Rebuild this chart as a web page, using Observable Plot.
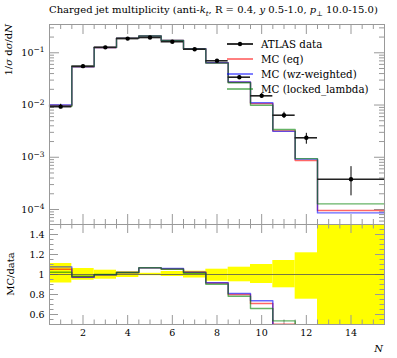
<!DOCTYPE html>
<html><head><meta charset="utf-8">
<script src="https://cdn.jsdelivr.net/npm/d3@7"></script>
<script src="https://cdn.jsdelivr.net/npm/@observablehq/plot@0.6"></script>
<style>
body{margin:0;background:#fff;}
#wrap{position:relative;width:397px;height:358px;overflow:hidden;font-family:"DejaVu Serif",serif;}
#wrap svg{position:absolute;left:0;overflow:visible;}
</style></head><body><div id="wrap"></div>
<script>
// ---- data ----
const binEdges = [0.5,1.5,2.5,3.5,4.5,5.5,6.5,7.5,8.5,9.5,10.5,11.5,12.5,15.5];
const binCenters = [1,2,3,4,5,6,7,8,9,10,11,12,14];
const dataValues = [0.0093,0.0555,0.127,0.187,0.196,0.163,0.117,0.0703,0.0341,0.0150,0.00638,0.00236,0.00038];
const dataRelHi = [1.11,1.06,1.043,1.026,1.012,1.03,1.033,1.053,1.073,1.10,1.14,1.217,1.74];
const dataRelLo = [0.915,0.943,0.953,0.97,0.988,0.98,0.965,0.933,0.927,0.91,0.867,0.753,0.48];
const mcEq     = [0.0098,0.0540,0.1265,0.191,0.209,0.172,0.1197,0.0643,0.0273,0.01065,0.0032,0.000865,0.0000955];
const mcWz     = [0.0100,0.0538,0.1265,0.191,0.209,0.173,0.1197,0.0645,0.0276,0.01105,0.00313,0.00092,0.0000861];
const mcLocked = [0.0095,0.0545,0.1268,0.191,0.210,0.1715,0.1185,0.0635,0.0267,0.0099,0.0034,0.00094,0.000128];
const ratioEq     = [1.053,0.975,0.997,1.02,1.066,1.055,1.023,0.915,0.80,0.71,0.503,0.37,0.25];
const ratioWz     = [1.076,0.972,0.997,1.02,1.066,1.06,1.023,0.918,0.81,0.737,0.49,0.39,0.23];
const ratioLocked = [1.023,0.982,1.0,1.02,1.068,1.053,1.013,0.903,0.783,0.66,0.536,0.40,0.34];
const seriesNames = ["MC (eq)","MC (wz-weighted)","MC (locked_lambda)"];
const seriesColors = ["#ff0000","#0000ff","#008000"];
const dataName = "ATLAS data";
const xTickLabels = [2,4,6,8,10,12,14];
const yMainLabels = [1e-4,1e-3,1e-2,1e-1];
const yRatioLabels = [0.6,0.8,1.0,1.2,1.4];

// ---- helpers ----
function steps(vals){const o=[];vals.forEach((v,i)=>{o.push({x:binEdges[i],y:v});o.push({x:binEdges[i+1],y:v});});return o;}
const dataRows = dataValues.map((v,i)=>({c:binCenters[i],v,lo:binEdges[i],hi:binEdges[i+1],eHi:v*dataRelHi[i],eLo:v*dataRelLo[i],rHi:dataRelHi[i],rLo:dataRelLo[i]}));

const W=397, ML=49, MR=13, FW=W-ML-MR;
const MAJ=10, MIN=5, TC="#999";
const xMinor=[]; for(let t=1;t<=15;t+=0.5){ if(!xTickLabels.includes(t)) xMinor.push(t); }
const yMinorMain=[]; for(const d of [1e-5,1e-4,1e-3,1e-2,1e-1]) for(let k=2;k<=9;k++){const v=k*d; if(v>5.16e-5&&v<0.348) yMinorMain.push(v);}
const yMinorRatio=[]; for(let t=0.55;t<1.5;t+=0.05){const r=Math.round(t*100)/100; if(!yRatioLabels.some(l=>Math.abs(l-r)<1e-6)) yMinorRatio.push(r);}

function xTicks(H, maj, min){
  return [
    Plot.tickX(xTickLabels,{insetBottom:H-maj,stroke:TC}),
    Plot.tickX(xMinor,{insetBottom:H-min,stroke:TC}),
    Plot.tickX(xTickLabels,{insetTop:H-maj,stroke:TC}),
    Plot.tickX(xMinor,{insetTop:H-min,stroke:TC})
  ];
}
function yTicks(maj, min, majL, minL){
  return [
    Plot.tickY(maj,{insetRight:FW-majL,stroke:TC}),
    Plot.tickY(min,{insetRight:FW-minL,stroke:TC}),
    Plot.tickY(maj,{insetLeft:FW-majL,stroke:TC}),
    Plot.tickY(min,{insetLeft:FW-minL,stroke:TC})
  ];
}
const font = {fontFamily:"DejaVu Serif", fontSize:"9.5px", background:"transparent", overflow:"visible"};

const mcMain=[mcEq,mcWz,mcLocked], mcRatio=[ratioEq,ratioWz,ratioLocked];

const main = Plot.plot({
  width:W, height:224, marginLeft:ML, marginRight:MR, marginTop:24, marginBottom:0,
  x:{domain:[0.5,15.5], axis:null},
  y:{type:"log", domain:[5.16e-5,0.348], axis:null},
  style:font,
  marks:[
    ...xTicks(200, MAJ, MIN),
    ...yTicks(yMainLabels, yMinorMain, MAJ, MIN),
    ...mcMain.map((s,i)=>Plot.line(steps(s),{x:"x",y:"y",stroke:seriesColors[i],strokeWidth:1.4,strokeOpacity:0.6})),
    Plot.ruleY(dataRows,{y:"v",x1:"lo",x2:"hi",stroke:"#222",strokeWidth:1.6}),
    Plot.ruleX(dataRows,{x:"c",y1:"eLo",y2:"eHi",stroke:"#000",strokeWidth:1}),
    Plot.dot(dataRows,{x:"c",y:"v",r:2.2,fill:"#000"}),
    Plot.text(yMainLabels,{y:d=>d,frameAnchor:"left",dx:-5,textAnchor:"end",text:d=>"10^"+Math.round(Math.log10(d)),fill:"#000"}),
    Plot.frame({stroke:TC})
  ]
});
main.style.top="0px";

const ratio = Plot.plot({
  width:W, height:134, marginLeft:ML, marginRight:MR, marginTop:0, marginBottom:34,
  x:{domain:[0.5,15.5], axis:null},
  y:{domain:[0.5,1.5], axis:null},
  style:font,
  marks:[
    Plot.rect(dataRows,{x1:"lo",x2:"hi",y1:"rLo",y2:"rHi",fill:"#ffff00",clip:true}),
    ...xTicks(100, MAJ*0.9, MIN*0.9),
    ...yTicks(yRatioLabels, yMinorRatio, MAJ*0.9, MIN*0.9),
    Plot.ruleY([1],{stroke:"#555",strokeWidth:0.8}),
    ...mcRatio.map((s,i)=>Plot.line(steps(s),{x:"x",y:"y",stroke:seriesColors[i],strokeWidth:1.4,strokeOpacity:0.6,clip:true})),
    Plot.text(yRatioLabels,{y:d=>d,frameAnchor:"left",dx:-5,textAnchor:"end",text:d=>d===1?"1":d.toFixed(1),fill:"#000"}),
    Plot.text(xTickLabels,{x:d=>d,frameAnchor:"bottom",dy:11,text:d=>String(d),fill:"#000"}),
    Plot.frame({stroke:TC})
  ]
});
ratio.style.top="224px";

const wrap=document.getElementById("wrap");
wrap.appendChild(main); wrap.appendChild(ratio);

// superscripts for log labels
main.querySelectorAll("text").forEach(t=>{
  const m=/^10\^(-?\d+)$/.exec(t.textContent);
  if(m){ t.textContent="10"; const s=document.createElementNS("http://www.w3.org/2000/svg","tspan"); s.setAttribute("dy","-0.45em"); s.setAttribute("font-size","7.5px"); s.textContent=m[1].replace("-","\u2212"); t.appendChild(s);}
});

// title
const ms=d3.select(main);
const title=ms.append("text").attr("x",ML).attr("y",13).attr("text-anchor","start").attr("font-size","10px").attr("fill","#000");
const parts=[["Charged jet multiplicity (anti-",0,0],["k",1,0],["t",1,1],[", R = 0.4, ",0,0],["y",1,0],[" 0.5-1.0, ",0,0],["p",1,0],["\u22A5",0,1],[" 10.0-15.0)",0,0]];
let sub=false;
parts.forEach(([s,it,sb])=>{
  const ts=title.append("tspan").text(s);
  if(it) ts.attr("font-style","italic");
  if(sb&&!sub){ts.attr("dy","2.5").attr("font-size","7px");sub=true;}
  else if(!sb&&sub){ts.attr("dy","-2.5");sub=false;}
});
// y label
const yl=ms.append("text").attr("transform","translate(12,24) rotate(-90)").attr("text-anchor","end").attr("font-size","10px").attr("fill","#000");
yl.append("tspan").text("1/");
yl.append("tspan").attr("font-style","italic").text("σ");
yl.append("tspan").text(" d");
yl.append("tspan").attr("font-style","italic").text("σ");
yl.append("tspan").text("/d");
yl.append("tspan").attr("font-style","italic").text("N");

// legend
const lg=ms.append("g").attr("font-size","10.3px").attr("text-anchor","start");
const rows=[{name:dataName,color:"#000",dot:true},...seriesNames.map((n,i)=>({name:n,color:seriesColors[i]}))];
rows.forEach((r,i)=>{
  const y=44+15*i;
  lg.append("line").attr("x1",227).attr("x2",253).attr("y1",y).attr("y2",y).attr("stroke",r.color).attr("stroke-width",r.dot?1.6:1);
  if(r.dot) lg.append("circle").attr("cx",240).attr("cy",y).attr("r",2.2).attr("fill","#000");
  lg.append("text").attr("x",261).attr("y",y+3.5).attr("text-anchor","start").text(r.name);
});

// ratio labels
const rs=d3.select(ratio);
rs.append("text").attr("transform","translate(14,50) rotate(-90)").attr("text-anchor","middle").attr("font-size","10px").text("MC/data");
rs.append("text").attr("x",383).attr("y",128).attr("text-anchor","end").attr("font-size","10px").attr("font-style","italic").text("N");
</script></body></html>
